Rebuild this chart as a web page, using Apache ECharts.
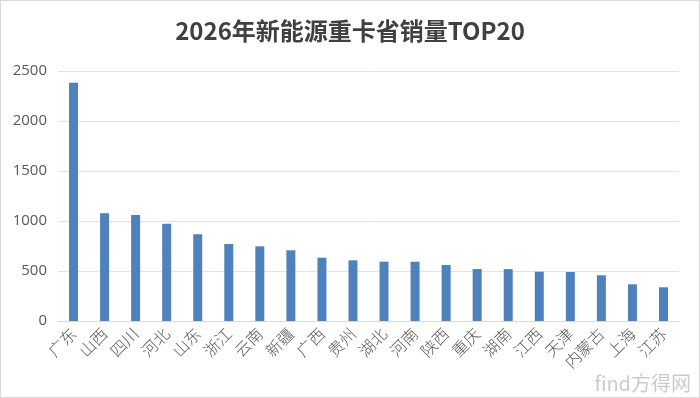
<!DOCTYPE html>
<html>
<head>
<meta charset="utf-8">
<script src="https://cdn.jsdelivr.net/npm/echarts@6/dist/echarts.min.js"></script>
<style>
  html, body { margin: 0; padding: 0; background: #fff; }
  #chart { width: 698px; height: 396px; border: 1px solid #d9d9d9; }
</style>
</head>
<body>
<div id="chart"></div>
<script>
// 省份（按销量排序）
var provinces = ['广东', '山西', '四川', '河北', '山东', '浙江', '云南', '新疆', '广西', '贵州',
  '湖北', '河南', '陕西', '重庆', '湖南', '江西', '天津', '内蒙古', '上海', '江苏'];
// 销量
var sales = [2383, 1077, 1060, 973, 867, 770, 747, 707, 633, 607,
  593, 593, 560, 520, 519, 493, 490, 457, 367, 337];
var yTicks = [0, 500, 1000, 1500, 2000, 2500];

var chart = echarts.init(document.getElementById('chart'));

var option = {
  animation: false,
  title: {
    text: '2026年新能源重卡省销量TOP20',
    left: 'center',
    top: 13,
    textStyle: {
      fontFamily: '"Noto Sans CJK SC", sans-serif',
      fontWeight: 'bold',
      fontSize: 24,
      color: '#404040'
    }
  },
  grid: {
    left: 57,
    right: 20,
    top: 70,
    bottom: 76
  },
  xAxis: {
    type: 'category',
    data: provinces,
    axisLine: { lineStyle: { color: '#d9d9d9' } },
    axisTick: { show: false },
    axisLabel: {
      rotate: 45,
      interval: 0,
      fontSize: 16,
      color: '#595959',
      fontFamily: '"Noto Sans CJK SC", sans-serif',
      fontWeight: 300,
      margin: 10
    }
  },
  yAxis: {
    type: 'value',
    min: yTicks[0],
    max: yTicks[yTicks.length - 1],
    interval: 500,
    axisLine: { show: false },
    axisTick: { show: false },
    splitLine: { lineStyle: { color: '#e3e3e3' } },
    axisLabel: {
      fontSize: 15,
      color: '#595959',
      fontFamily: '"Open Sans", sans-serif',
      margin: 11,
      formatter: function (v) { return String(v); }
    }
  },
  series: [{
    type: 'bar',
    data: sales,
    barWidth: 9,
    itemStyle: { color: '#4f81bd' }
  }],
  graphic: [{
    type: 'text',
    right: 8,
    bottom: 4,
    style: {
      text: 'find方得网',
      fontSize: 20,
      fontFamily: '"Noto Sans CJK SC", sans-serif',
      fill: 'rgba(160,160,160,0.55)'
    }
  }]
};

chart.setOption(option);
</script>
</body>
</html>
